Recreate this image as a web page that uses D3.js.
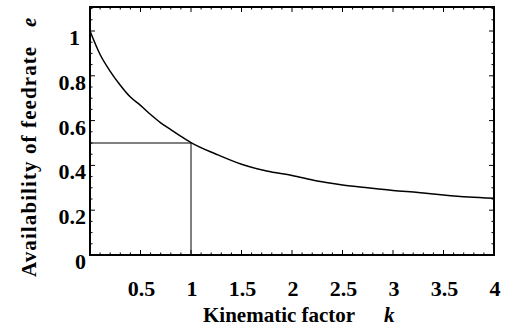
<!DOCTYPE html>
<html><head><meta charset="utf-8">
<script src="https://cdn.jsdelivr.net/npm/d3@7"></script>
<style>body{margin:0;background:#fff}svg{display:block}</style>
</head><body>
<script>
const kValues = [0,0.1,0.2,0.3,0.4,0.5,0.6,0.7,0.8,0.9,1.0,1.25,1.5,1.75,2.0,2.25,2.5,2.75,3.0,3.25,3.5,3.75,4.0];
const eValues = [1.0,0.895,0.82,0.758,0.705,0.668,0.627,0.59,0.56,0.53,0.502,0.45,0.405,0.375,0.355,0.33,0.313,0.3,0.288,0.279,0.268,0.259,0.253];
const xTicks = [0.5,1,1.5,2,2.5,3,3.5,4];
const yTicks = [0,0.2,0.4,0.6,0.8,1];
const refK = 1, refE = 0.5;

const W=517,H=329;
const L=90,R=494,T=7,B=255;
const x=d3.scaleLinear().domain([0,4]).range([L,R]);
const y=d3.scaleLinear().domain([0,1]).range([B,31]);
const svg=d3.select("body").append("svg").attr("width",W).attr("height",H);
const font="'Liberation Serif','Times New Roman',serif";

// minor ticks
const minorX=d3.range(0,4.001,0.1);
const minorY=d3.range(0,1.101,0.05);
const g=svg.append("g").attr("stroke","#000").attr("stroke-width",1);
minorX.forEach(v=>{
  const major=Math.abs(v*2-Math.round(v*2))<1e-6;
  const len=major?5:2.5;
  g.append("line").attr("x1",x(v)).attr("x2",x(v)).attr("y1",B).attr("y2",B-len);
  g.append("line").attr("x1",x(v)).attr("x2",x(v)).attr("y1",T).attr("y2",T+len);
});
minorY.forEach(v=>{
  const major=Math.abs(v*5-Math.round(v*5))<1e-6;
  const len=major?5:2.5;
  g.append("line").attr("y1",y(v)).attr("y2",y(v)).attr("x1",L).attr("x2",L+len);
  g.append("line").attr("y1",y(v)).attr("y2",y(v)).attr("x1",R).attr("x2",R-len);
});

// reference lines
svg.append("path").attr("fill","none").attr("stroke","#000").attr("stroke-width",1)
  .attr("d",`M${x(0)},${y(refE)}H${x(refK)}M${x(refK)},${y(0)}V${y(refE)}`);

// curve
svg.append("path").datum(kValues.map((k,i)=>[k,eValues[i]]))
  .attr("fill","none").attr("stroke","#000").attr("stroke-width",1.5)
  .attr("d",d3.line().x(d=>x(d[0])).y(d=>y(d[1])).curve(d3.curveMonotoneX));

// frame
svg.append("rect").attr("x",L).attr("y",T).attr("width",R-L).attr("height",B-T)
  .attr("fill","none").attr("stroke","#000").attr("stroke-width",2);

// tick labels
svg.append("g").selectAll("text").data(xTicks).join("text")
  .attr("x",d=>x(d)+1).attr("y",296).attr("text-anchor","middle")
  .attr("font-family",font).attr("font-weight","bold").attr("font-size",22)
  .text(d=>d);
svg.append("g").selectAll("text").data(yTicks).join("text")
  .attr("x",d=>d===1?80:86).attr("y",d=>y(d)+14).attr("text-anchor","end")
  .attr("font-family",font).attr("font-weight","bold").attr("font-size",22)
  .text(d=>d);

// axis titles
const xt=svg.append("text").attr("x",203).attr("y",322)
  .attr("font-family",font).attr("font-weight","bold").attr("font-size",21);
xt.append("tspan").text("Kinematic factor");
xt.append("tspan").attr("x",384).attr("font-style","italic").text("k");

const yt=svg.append("text").attr("transform","translate(36,277) rotate(-90)")
  .attr("font-family",font).attr("font-weight","bold").attr("font-size",21);
yt.append("tspan").attr("letter-spacing",1.1).text("Availability of feedrate");
yt.append("tspan").attr("x",250).attr("font-style","italic").text("e");
</script>
</body></html>
